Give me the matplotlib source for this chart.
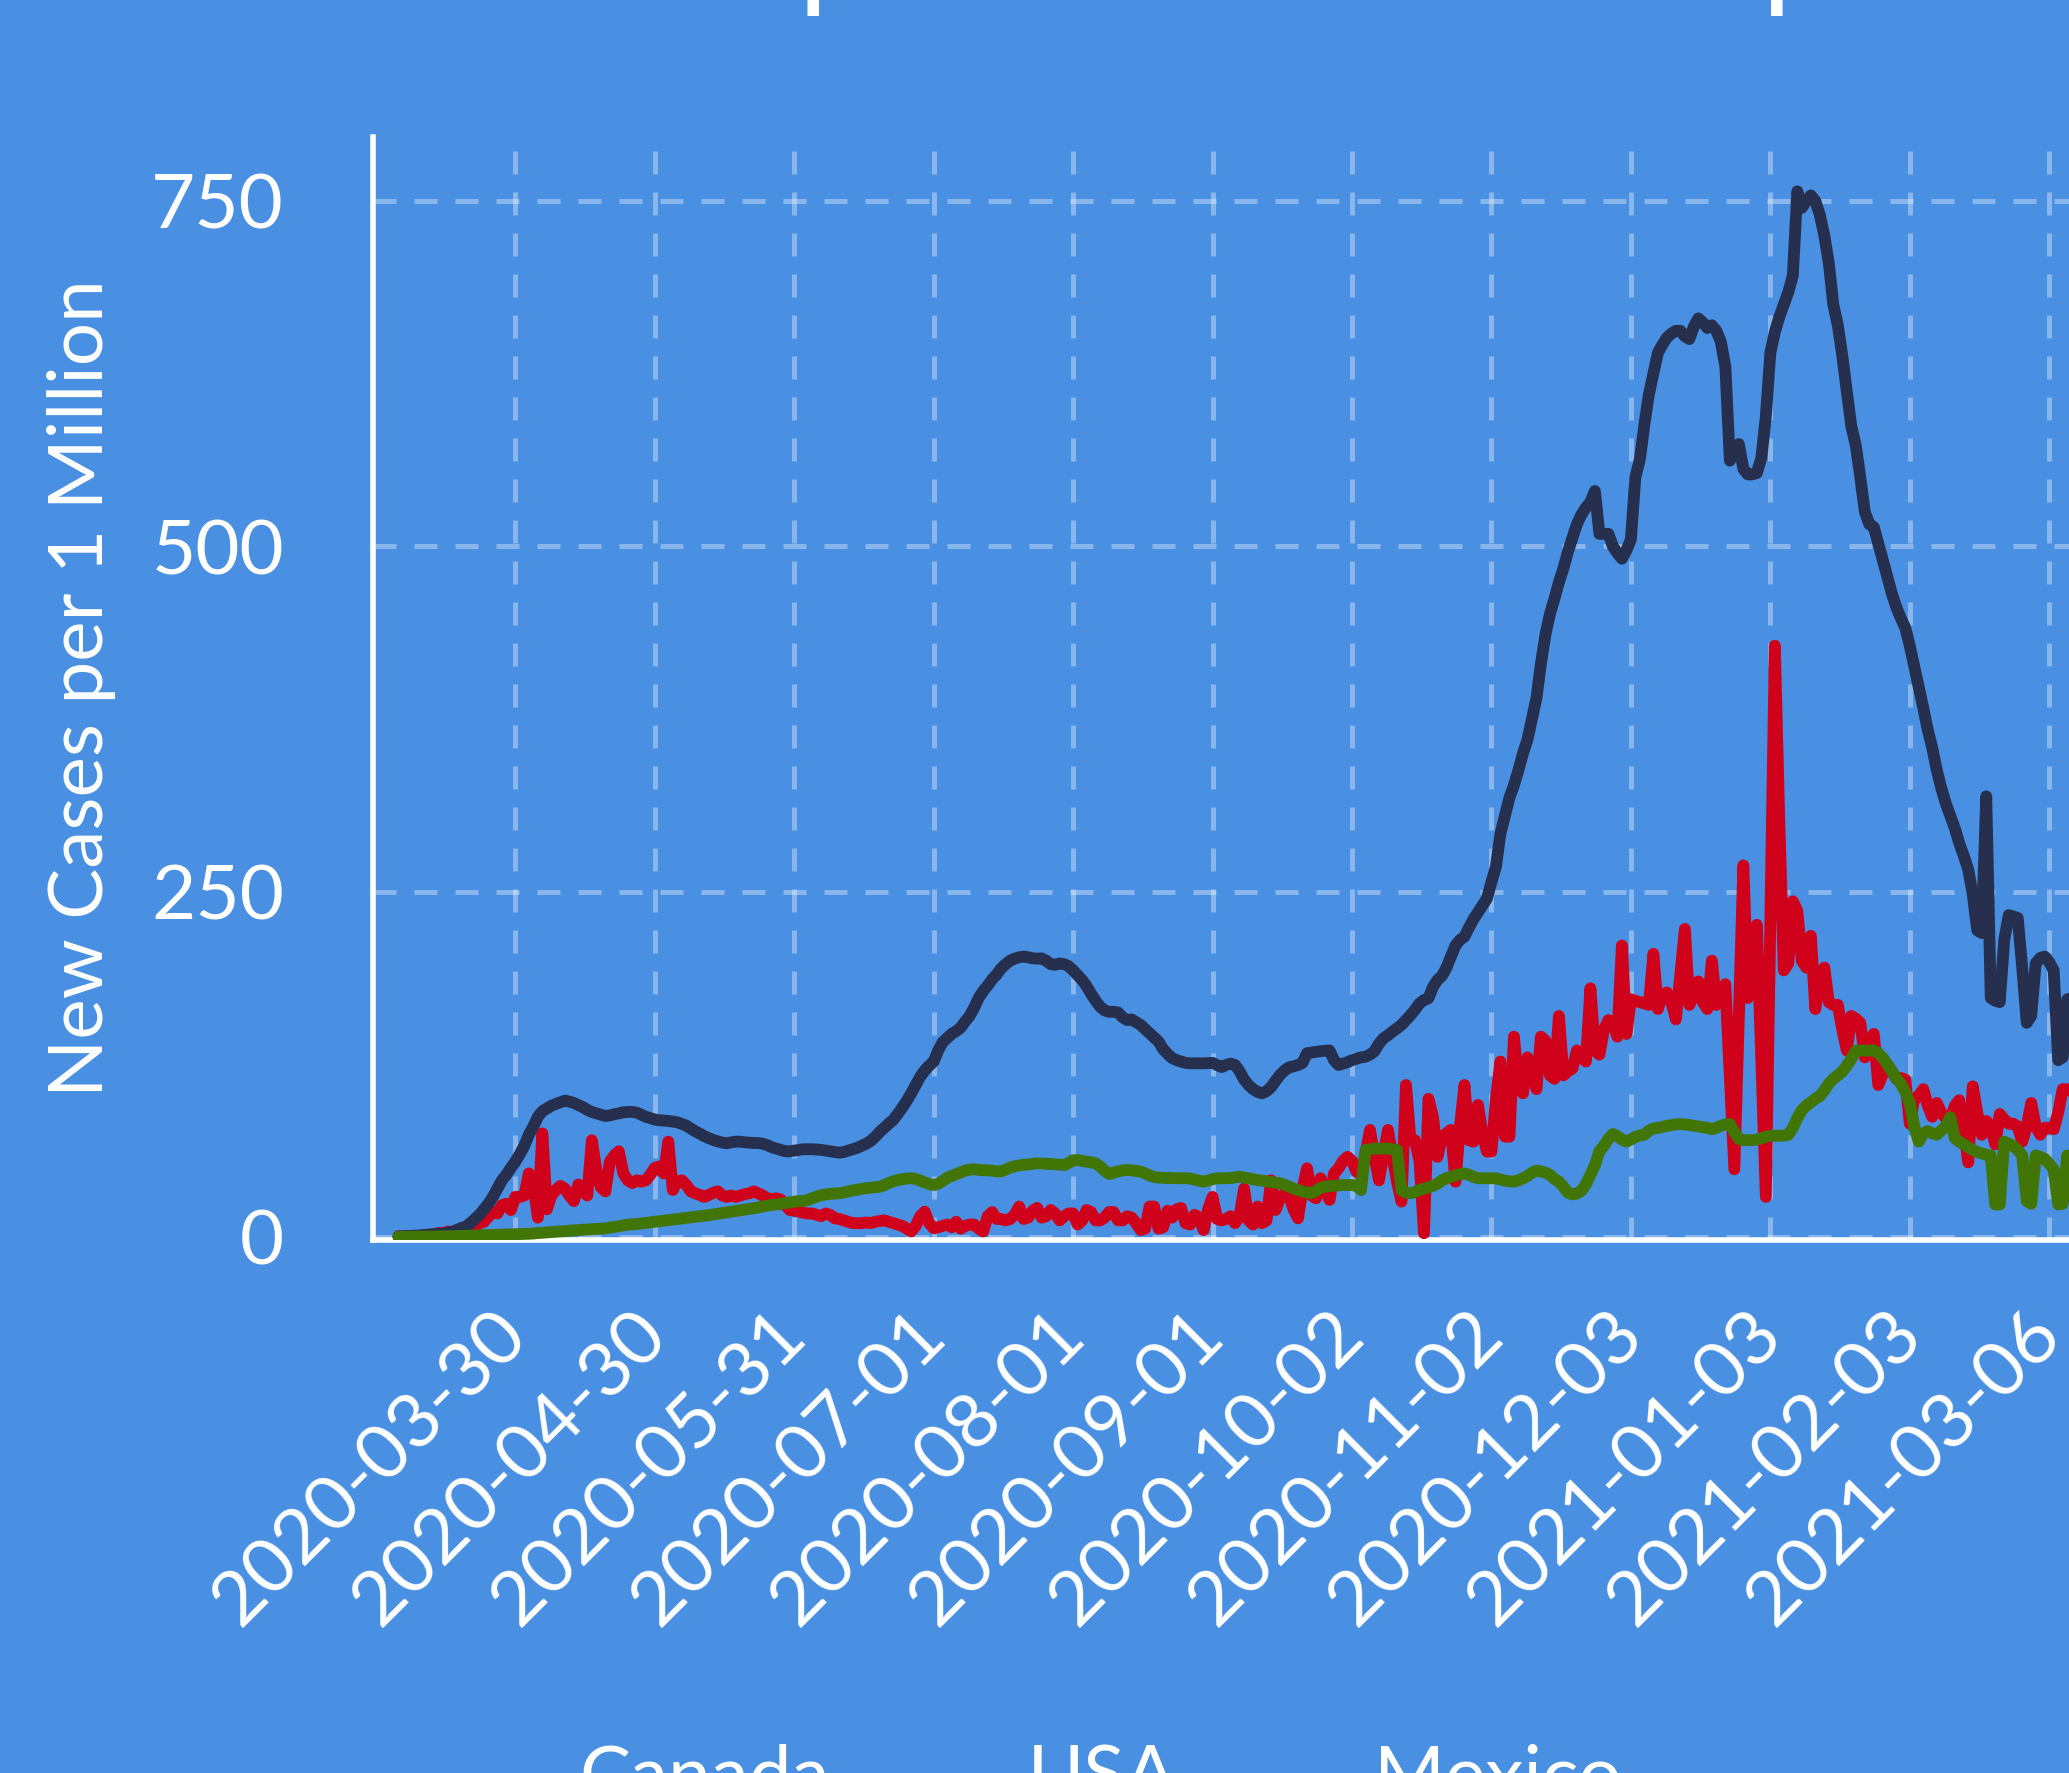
import matplotlib
matplotlib.use("Agg")
import matplotlib.pyplot as plt
from matplotlib.legend_handler import HandlerLine2D
import numpy as np
import pandas as pd

plt.rcParams['font.family'] = ['Lato', 'DejaVu Sans']

# ---------------- data ----------------
start_date = '2020-03-04'

canada = [
    0.5, 0.3, 0.5, 0.8, 0.5, 1.0, 1.2, 1.5, 2.0, 3.0,
    2.5, 4.0, 3.0, 5.0, 5.5, 6.3, 6.3, 7.5, 10, 11,
    14.7, 18.3, 17, 23, 24, 19.5, 29, 29, 30, 46,
    38, 14, 75, 20, 30, 34, 37, 35, 30, 26,
    38, 33, 30, 70, 48.5, 36, 33, 54.5, 59, 62,
    46, 41, 39, 41, 40, 41, 45, 50, 51, 46,
    69, 34, 40, 41, 37.6, 33, 31.6, 30.4, 29, 30.4,
    32, 33, 30, 29, 30, 29, 30, 31, 31.6, 33,
    31.6, 30, 28, 27, 28, 27, 23, 19.5, 19, 18.5,
    17.5, 17, 17, 16, 15, 17, 16, 13.5, 13, 12,
    11, 10, 10, 10, 10.5, 10, 11, 11.5, 12, 11,
    10, 9, 8, 6, 4, 8, 15, 18.3, 10, 6.3,
    7, 8, 9, 7, 11, 6, 8, 9, 9, 6,
    4, 15, 18, 13, 13, 12, 13, 16, 22, 13,
    14, 19, 21, 14, 15, 19.5, 17, 12, 15, 17,
    17, 9, 12, 19.5, 18, 12, 12, 14, 18, 18,
    12, 12, 15, 14, 10, 5, 6, 22, 22, 6,
    7, 19, 14, 20, 21, 10, 9, 16, 14, 5,
    20, 29, 13, 12, 13, 15, 10, 15, 35, 12,
    9, 22, 10, 12, 41, 19.5, 28, 31.6, 30, 20,
    13.5, 35, 49.7, 30, 28, 42.5, 35, 26.8, 46, 49.7,
    55, 58, 55, 47.3, 45, 60, 77.5, 58, 41, 60,
    77.5, 58, 40, 25.6, 110, 70, 70, 55, 2.7, 100,
    87, 58, 72.6, 75, 77.5, 40, 80, 110, 70, 69,
    95.6, 75, 61.8, 61.8, 100, 127, 72.6, 72.6, 145, 110,
    104, 130, 120, 107, 145, 142, 117, 114.5, 160, 117,
    120, 122, 135, 130, 127, 180, 135, 132, 150, 157,
    155, 145, 211, 147, 172, 171, 170, 169, 168, 205,
    165, 175, 177, 170, 157.5, 190, 223, 168, 175, 185,
    170, 165, 200, 168, 175, 183, 116, 49, 159, 269,
    173, 200, 226, 127, 29, 230, 428, 300, 193, 198,
    243, 236, 200, 195, 218, 165, 190, 195, 170, 168,
    168, 150, 135, 160, 158, 155, 130, 140, 147, 110,
    118, 125, 120, 114.5, 115, 114, 82, 100, 102, 107,
    95, 87, 97, 90, 86, 84, 95, 99, 79, 54,
    109, 90, 74, 84, 80, 67, 89, 85, 82, 82,
    80, 69, 80, 97, 80, 74, 79, 79, 78, 90,
    107, 107, 105, 108,
]

usa = [
    0.4, 0.5, 0.6, 0.8, 1.0, 1.2, 1.5, 1.8, 2.0, 2.3,
    2.6, 3.0, 3.9, 5.0, 6.5, 7.5, 10, 13, 16, 20,
    24, 29, 35, 41, 45, 50, 54.5, 60, 66, 74,
    80, 87, 91, 93, 95, 96.3, 97.5, 98.7, 98, 97,
    95.5, 94, 92, 90.5, 89.5, 88.5, 87.6, 88, 88.8, 89.5,
    90.3, 90.5, 90.5, 90, 88.5, 87, 86, 85, 84.5, 84.2,
    84, 83.5, 83, 81.8, 80.6, 78.5, 76.5, 74.8, 73, 71.5,
    70.2, 69.2, 68.3, 67.8, 68.5, 69, 69, 68.5, 68.3, 68,
    68, 67.5, 66.5, 65, 64, 63, 62, 62, 62.5, 63,
    63.5, 63.5, 63.5, 63.3, 63, 62.5, 62, 61.5, 61, 61.5,
    62.5, 63.5, 64.5, 66, 67.5, 69.5, 72.5, 76, 79, 82,
    84.7, 89, 93.5, 98.5, 104, 110, 116, 120.5, 124, 127,
    135, 141, 144, 147, 149, 151.5, 156, 160, 166, 173,
    178, 182, 186.5, 190, 194.5, 197.5, 200, 201.5, 202.5, 203,
    202.5, 201.7, 201.5, 201.7, 200, 197.5, 197, 198, 197.5, 196,
    193, 189.5, 186, 181.5, 176, 171, 166.7, 164, 163, 163,
    162.5, 159, 157, 157.5, 155.5, 153.5, 150.5, 147.4, 144.5, 141.4,
    136, 132.5, 129.5, 128, 127, 126, 125.7, 125.7, 125.7, 125.7,
    125.8, 126, 124.5, 123, 124.5, 125.5, 124.5, 120, 114, 110,
    107, 105, 104, 105.5, 108.5, 113, 117.3, 120.5, 122.8, 123.5,
    124.5, 126, 133, 133.5, 134, 134.5, 134.8, 135, 128, 124.5,
    125.5, 126.5, 128, 129, 130, 130.5, 132, 134.5, 140, 143.8,
    146, 148.6, 151, 153.5, 157, 160.5, 164.5, 169, 171.5, 172.8,
    181, 186, 189, 195, 203, 211, 215, 217.4, 224, 230,
    235, 240, 245, 257, 268, 292, 305, 318, 327, 338,
    350, 360, 375, 390, 415, 436, 451, 462, 474, 484,
    496, 506, 516, 523, 528, 532, 540, 509, 509, 509,
    500, 495, 491, 497, 505, 550, 563, 588, 610, 625,
    640, 646, 651, 654, 656, 656, 652, 650, 659, 665,
    662, 658, 660, 656, 648, 630, 562, 568, 574, 556,
    552, 552, 553, 564, 594, 640, 655, 666, 675, 684,
    696, 757, 745, 750, 754, 750, 740, 725, 705, 675,
    660, 638, 612, 587, 573, 550, 525, 516, 514, 502,
    490, 478, 466, 456, 448, 441, 428, 413, 398, 383,
    367, 354, 338, 325, 314, 305, 296, 285, 276, 266,
    248, 222, 220, 319, 173, 171, 170, 215, 233, 232,
    231, 195, 155, 160, 198, 202, 203, 199, 193, 128,
    130, 172, 173, 174,
]

mexico = [
    0.1, 0.1, 0.1, 0.2, 0.2, 0.2, 0.3, 0.3, 0.4, 0.4,
    0.5, 0.5, 0.6, 0.7, 0.8, 0.9, 1.0, 1.1, 1.2, 1.3,
    1.4, 1.5, 1.6, 1.7, 1.8, 1.9, 2.0, 2.1, 2.2, 2.3,
    2.5, 2.8, 3.0, 3.3, 3.5, 3.8, 4.0, 4.2, 4.5, 4.8,
    5.0, 5.2, 5.4, 5.6, 5.8, 6.0, 6.3, 6.8, 7.3, 7.8,
    8.4, 8.9, 9.2, 9.4, 9.8, 10.2, 10.6, 11.0, 11.4, 11.8,
    12.2, 12.6, 13.0, 13.4, 13.8, 14.2, 14.6, 15.0, 15.4, 15.8,
    16.3, 16.8, 17.3, 17.8, 18.3, 18.8, 19.3, 19.8, 20.3, 20.8,
    21.4, 22.0, 22.6, 23.2, 23.5, 24.0, 24.5, 25.0, 25.5, 26.0,
    26.0, 26.8, 28.0, 29.3, 30.2, 30.8, 31.2, 31.5, 31.6, 32.2,
    33, 33.6, 34.2, 34.8, 35.3, 35.7, 36, 36.3, 37.5, 39,
    40.3, 41.2, 41.8, 42.3, 42.5, 42, 40.8, 39.5, 38.3, 37.6,
    38.5, 40.5, 42.8, 44.2, 45.5, 46.8, 48, 48.8, 49, 48.5,
    48.3, 48.2, 48, 47.5, 47.5, 48.8, 50.2, 51.2, 51.8, 52.3,
    52.5, 53, 53.3, 53.2, 53, 52.8, 52.6, 52.3, 52, 53.5,
    55.5, 55.7, 55, 54.5, 54, 53.3, 51, 48, 45.6, 46.5,
    47.5, 48.2, 48.5, 48.2, 47.8, 47.3, 46, 44.5, 43.4, 43,
    42.8, 42.7, 42.6, 42.5, 42.5, 42.5, 42.3, 41.5, 40.7, 40,
    40.8, 41.8, 42.5, 42.5, 42.5, 42.6, 43.2, 43.7, 43, 42.5,
    41.8, 41.2, 40.8, 40.3, 39.8, 39.3, 38.9, 37.8, 36.5, 35,
    34, 33, 32, 31.8, 33.5, 35.5, 36.4, 36.8, 37, 37.3,
    37.6, 37.6, 37.6, 37, 34, 63, 63.5, 64, 64, 64,
    64, 63.5, 63, 34, 32, 31.6, 32.5, 34, 35, 36,
    37, 38.5, 41, 42.5, 43.5, 44.5, 45.5, 46, 45, 43.5,
    42.5, 42.5, 42.5, 42.5, 42.5, 41.5, 40.8, 40.3, 40, 41,
    42.5, 44, 46.5, 48, 47.5, 46.5, 45, 42, 40, 36.2,
    32, 30.8, 31.5, 33.5, 38, 45, 52, 62, 66, 71,
    74.5, 73, 70.5, 69, 70.5, 72.5, 73.5, 74, 77, 78.5,
    79, 79.5, 80.5, 81, 81.5, 81.7, 81.5, 81, 80.5, 80,
    79.5, 79, 78, 79, 80.5, 81.5, 81.7, 76, 71, 70.1,
    70.1, 70.1, 70.5, 71.5, 72.5, 73.3, 73.3, 73.3, 73.3, 74,
    79, 86, 91.8, 95, 97.5, 100, 102, 106, 111, 114.5,
    117, 119.6, 124, 129, 134.8, 135, 135, 135, 135, 133,
    129.7, 125, 120, 115, 111, 105, 97, 80, 69, 75,
    76.6, 75, 74.1, 77, 80, 86.7, 71.6, 69, 67, 65,
    63, 61.5, 60.5, 59.5, 59, 23.5, 23.5, 69, 67.5, 66,
    63, 59, 26, 24, 59, 58, 56.5, 53, 49, 23.5,
    24, 59, 58, 57,
]

tick_labels = ['2020-03-30', '2020-04-30', '2020-05-31', '2020-07-01',
               '2020-08-01', '2020-09-01', '2020-10-02', '2020-11-02',
               '2020-12-03', '2021-01-03', '2021-02-03', '2021-03-06']
y_ticks = [0, 250, 500, 750]

series_names = ['Canada', 'USA', 'Mexico']

# ---------------- style ----------------
BG = '#4a90e2'
COLORS = ['#d0021b', '#262f4d', '#417505']
W, H = 2069, 1773
LW = 8.5

fig = plt.figure(figsize=(W / 100, H / 100), dpi=100, facecolor=BG)
ax = fig.add_axes([373 / W, 1 - 1240 / H, 1 - 373 / W, (1240 - 137) / H])
ax.set_facecolor(BG)

dates = pd.date_range(start_date, periods=len(usa), freq='D')

lines = []
for name, vals, col in zip(series_names, [canada, usa, mexico], COLORS):
    ln, = ax.plot(dates, vals, color=col, lw=LW, label=name,
                  solid_joinstyle='round', solid_capstyle='round', zorder=3)
    lines.append(ln)

t0 = pd.Timestamp(start_date)
ax.set_xlim(t0 - pd.Timedelta(hours=5.65 * 24), t0 + pd.Timedelta(hours=371.4 * 24))
ax.set_ylim(-2.2, 796.3)

ax.set_xticks(pd.to_datetime(tick_labels))
ax.set_xticklabels(tick_labels)
ax.set_yticks(y_ticks)
ax.set_yticklabels([str(v) for v in y_ticks])

ax.grid(True, color='white', alpha=0.35, lw=3.6, linestyle=(0, (4.6, 3.6)), zorder=0)
ax.set_axisbelow(True)

for s in ['top', 'right']:
    ax.spines[s].set_visible(False)
for s in ['left', 'bottom']:
    ax.spines[s].set_color('white')
    ax.spines[s].set_linewidth(4)

ax.tick_params(axis='both', length=0, labelsize=55, labelcolor='white')
ax.tick_params(axis='y', pad=64)
ax.tick_params(axis='x', pad=60)
for lab in ax.get_xticklabels():
    lab.set_rotation(45)
    lab.set_ha('right')
    lab.set_va('center')
    lab.set_rotation_mode('anchor')

fig.text(103 / W, 1 - 688.5 / H, 'New Cases per 1 Million', rotation=90,
         rotation_mode='anchor', ha='center', va='baseline',
         fontsize=55, color='white')

# title: only its lowest part reaches into the picture
fig.text(0.5, 1 + 6 / H, 'New Cases per 1 Million People',
         ha='center', va='baseline', fontsize=92.5, color='white')


class LowLineHandler(HandlerLine2D):
    """Legend line drawn a little below the text centre."""
    def create_artists(self, legend, orig_handle, xdescent, ydescent,
                       width, height, fontsize, trans):
        arts = super().create_artists(legend, orig_handle, xdescent, ydescent,
                                      width, height, fontsize, trans)
        for a in arts:
            a.set_ydata(np.asarray(a.get_ydata(), dtype=float) - 0.35 * fontsize)
        return arts


fig.legend(handles=lines, labels=series_names, loc='center left',
           bbox_to_anchor=(427 / W, 1 - 1778 / H), ncol=3, frameon=False,
           fontsize=55, handlelength=1.5, handletextpad=0.5,
           columnspacing=0.58, borderpad=0, borderaxespad=0,
           labelcolor='white',
           handler_map={ln: LowLineHandler() for ln in lines})

fig.savefig('out.png', dpi=100, facecolor=BG)
